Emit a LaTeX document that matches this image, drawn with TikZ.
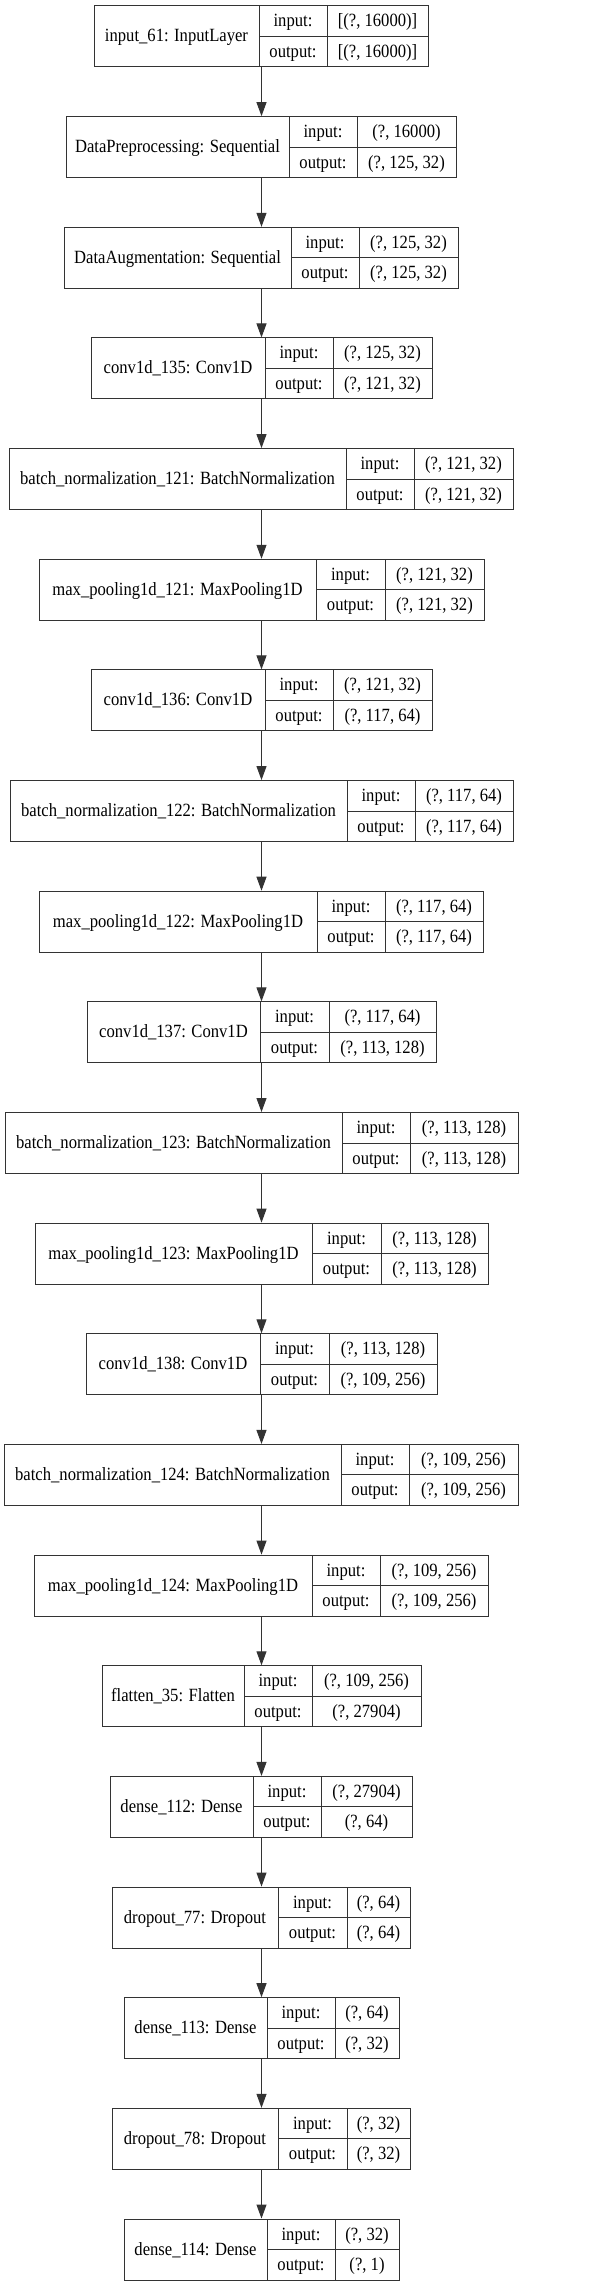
\documentclass[tikz,border=0pt]{standalone}
\usepackage{fontspec}
\setmainfont{Liberation Serif}[FakeStretch=0.89]
\usetikzlibrary{arrows.meta}

\begin{document}
\begin{tikzpicture}[x=0.75pt, y=-0.75pt, every node/.style={font=\fontsize{14}{16}\selectfont, inner sep=0pt}, >={Triangle[length=10.5pt, width=7.5pt]}]
	\useasboundingbox (0,0) rectangle (592,2287);
	% one record per layer: left / first split / second split / right / name / input / output
	\foreach \L/\da/\db/\R/\name/\shin/\shout [count=\i from 0] in {
		94/259/327/428/{input\_61: InputLayer}/{[(?, 16000)]}/{[(?, 16000)]},
		66/289/357/456/{DataPreprocessing: Sequential}/{(?, 16000)}/{(?, 125, 32)},
		64/291/359/458/{DataAugmentation: Sequential}/{(?, 125, 32)}/{(?, 125, 32)},
		91/265/333/432/{conv1d\_135: Conv1D}/{(?, 125, 32)}/{(?, 121, 32)},
		9/346/414/513/{batch\_normalization\_121: BatchNormalization}/{(?, 121, 32)}/{(?, 121, 32)},
		39/316/385/484/{max\_pooling1d\_121: MaxPooling1D}/{(?, 121, 32)}/{(?, 121, 32)},
		91/265/333/432/{conv1d\_136: Conv1D}/{(?, 121, 32)}/{(?, 117, 64)},
		10/347/415/513/{batch\_normalization\_122: BatchNormalization}/{(?, 117, 64)}/{(?, 117, 64)},
		39/317/385/483/{max\_pooling1d\_122: MaxPooling1D}/{(?, 117, 64)}/{(?, 117, 64)},
		87/260/329/436/{conv1d\_137: Conv1D}/{(?, 117, 64)}/{(?, 113, 128)},
		5/342/410/518/{batch\_normalization\_123: BatchNormalization}/{(?, 113, 128)}/{(?, 113, 128)},
		35/312/381/488/{max\_pooling1d\_123: MaxPooling1D}/{(?, 113, 128)}/{(?, 113, 128)},
		86/260/329/437/{conv1d\_138: Conv1D}/{(?, 113, 128)}/{(?, 109, 256)},
		4/341/409/518/{batch\_normalization\_124: BatchNormalization}/{(?, 109, 256)}/{(?, 109, 256)},
		34/312/380/488/{max\_pooling1d\_124: MaxPooling1D}/{(?, 109, 256)}/{(?, 109, 256)},
		102/244/312/421/{flatten\_35: Flatten}/{(?, 109, 256)}/{(?, 27904)},
		110/253/321/412/{dense\_112: Dense}/{(?, 27904)}/{(?, 64)},
		112/278/347/410/{dropout\_77: Dropout}/{(?, 64)}/{(?, 64)},
		124/267/335/399/{dense\_113: Dense}/{(?, 64)}/{(?, 32)},
		112/278/347/410/{dropout\_78: Dropout}/{(?, 32)}/{(?, 32)},
		124/267/335/399/{dense\_114: Dense}/{(?, 32)}/{(?, 1)}%
	}{
		\pgfmathsetmacro\t{6+110.65*\i}
		\pgfmathsetmacro\w{(\R-\L)*0.75}
		\node[draw=black!80, line width=0.75pt, minimum width=\w pt, minimum height=45.75pt] (layer\i) at (261.5,\t+30.5) {};
		\draw[black!80, line width=0.75pt] (\da,\t) -- (\da,\t+61) (\db,\t) -- (\db,\t+61) (\da,\t+30.5) -- (\R,\t+30.5);
		\node[anchor=base] (name\i) at ({(\L+\da)/2},\t+36) {\name};
		\node[anchor=base] (inlbl\i) at ({(\da+\db)/2},\t+21) {input:};
		\node[anchor=base] (outlbl\i) at ({(\da+\db)/2},\t+51.5) {output:};
		\node[anchor=base] (inval\i) at ({(\db+\R)/2},\t+21) {\shin};
		\node[anchor=base] (outval\i) at ({(\db+\R)/2},\t+51.5) {\shout};
	}
	\foreach \i [evaluate=\i as \j using int(\i+1)] in {0,...,19}
		\draw[->, black!80, line width=0.75pt] (layer\i.south) -- (layer\j.north);
\end{tikzpicture}
\end{document}
